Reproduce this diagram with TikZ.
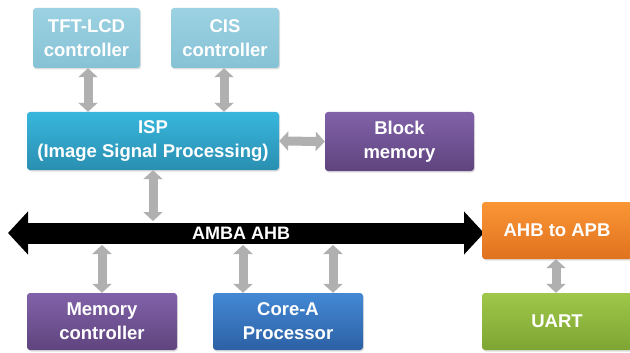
\documentclass[tikz,border=0pt]{standalone}
\usepackage{fontspec}
\setmainfont{Liberation Sans}
\usetikzlibrary{arrows.meta,shadows}

\definecolor{ltblueT}{HTML}{9CD2E2}
\definecolor{ltblueB}{HTML}{86C2D5}
\definecolor{ispT}{HTML}{38B6DD}
\definecolor{ispB}{HTML}{2A8FB1}
\definecolor{purpT}{HTML}{8162A9}
\definecolor{purpB}{HTML}{5F447E}
\definecolor{coreT}{HTML}{4388D5}
\definecolor{coreB}{HTML}{2C61A4}
\definecolor{orangeT}{HTML}{FA9636}
\definecolor{orangeB}{HTML}{E0721E}
\definecolor{greenT}{HTML}{9FC749}
\definecolor{greenB}{HTML}{7EA533}

\begin{document}
\begin{tikzpicture}[x=1pt, y=-1pt,
    block/.style = {shape=rectangle, rounded corners=3pt, align=center, text=white, inner sep=0pt,
        font=\fontsize{18.5}{24}\selectfont\bfseries,
        drop shadow={opacity=0.25, shadow xshift=1pt, shadow yshift=-1.5pt}},
    ctrl/.style = {block, top color=ltblueT, bottom color=ltblueB},
    purp/.style = {block, top color=purpT, bottom color=purpB},
    link/.style = {draw=gray!62, line width=9pt,
        {Triangle[length=9pt,width=19pt]}-{Triangle[length=9pt,width=19pt]}},
    busline/.style = {draw=black, line width=21pt,
        {Triangle[length=20pt,width=42pt]}-{Triangle[length=20pt,width=42pt]}}]
    \useasboundingbox (0,0) rectangle (630,353);

    % upper part
    \node[ctrl, minimum width=107pt, minimum height=60pt] (tft) at (86.5,38) {TFT-LCD\\controller};
    \node[ctrl, minimum width=108pt, minimum height=60pt] (cis) at (225,38) {CIS\\controller};
    \node[block, top color=ispT, bottom color=ispB, minimum width=252pt, minimum height=58pt] (isp) at (153,141) {ISP\\(Image Signal Processing)};
    \node[purp, minimum width=149pt, minimum height=59pt] (blkmem) at (399.5,141.5) {Block\\memory};

    % bus
    \coordinate (busL) at (8,233);
    \coordinate (busR) at (484,233);
    \coordinate (bustop) at (0,221);
    \coordinate (busbot) at (0,245);
    \draw[busline] (busL) -- (busR) node[pos=0.49, text=white, font=\fontsize{18}{20}\selectfont\bfseries] (bus) {AMBA AHB};

    % lower part
    \node[block, top color=orangeT, bottom color=orangeB, minimum width=150pt, minimum height=57pt] (ahb2apb) at (557,230.5) {AHB to APB};
    \node[purp, minimum width=150pt, minimum height=57pt] (memctrl) at (102,321.5) {Memory\\controller};
    \node[block, top color=coreT, bottom color=coreB, minimum width=150pt, minimum height=57pt] (core) at (288,321.5) {Core-A\\Processor};
    \node[block, top color=greenT, bottom color=greenB, minimum width=150pt, minimum height=57pt] (uart) at (557,321.5) {UART};

    % connections
    \draw[link] ([xshift=1.5pt]tft.south) -- ([xshift=1.5pt]tft.south |- isp.north);
    \draw[link] ([xshift=-1pt]cis.south) -- ([xshift=-1pt]cis.south |- isp.north);
    \draw[link] (isp.east) -- (blkmem.west);
    \draw[link] (isp.south) -- (isp.south |- bustop);
    \draw[link] (memctrl.north |- busbot) -- (memctrl.north);
    \draw[link] ([xshift=-45pt]core.north |- busbot) -- ([xshift=-45pt]core.north);
    \draw[link] ([xshift=45pt]core.north |- busbot) -- ([xshift=45pt]core.north);
    \draw[link] ([xshift=-1pt]ahb2apb.south) -- ([xshift=-1pt]uart.north);
\end{tikzpicture}
\end{document}
